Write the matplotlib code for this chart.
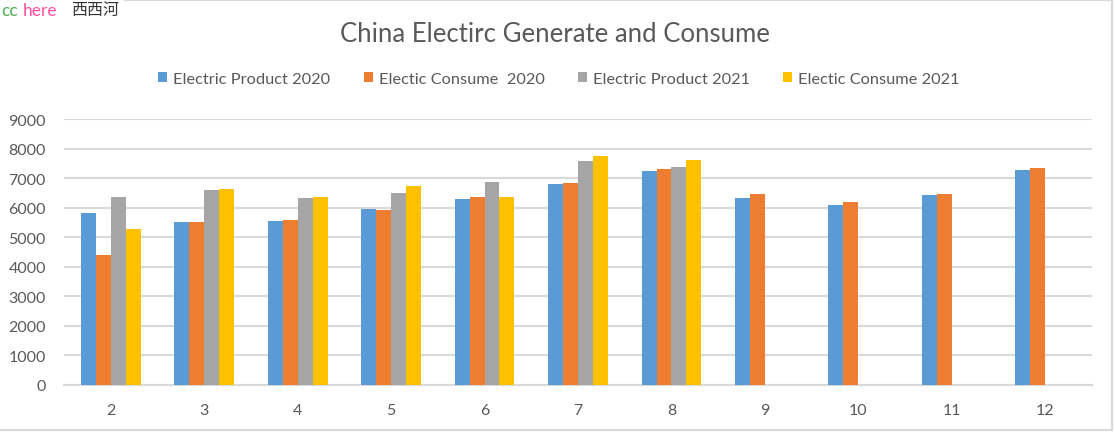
import numpy as np
import matplotlib
matplotlib.use("Agg")
import matplotlib.pyplot as plt
from matplotlib.lines import Line2D

months = ["2", "3", "4", "5", "6", "7", "8", "9", "10", "11", "12"]
product_2020 = [5810, 5510, 5545, 5950, 6290, 6800, 7240, 6325, 6090, 6425, 7275]
consume_2020 = [4400, 5510, 5580, 5915, 6355, 6835, 7305, 6460, 6190, 6460, 7340]
product_2021 = [6355, 6595, 6325, 6495, 6865, 7580, 7375, np.nan, np.nan, np.nan, np.nan]
consume_2021 = [5275, 6630, 6355, 6730, 6355, 7745, 7610, np.nan, np.nan, np.nan, np.nan]
series_labels = ["Electric Product 2020", "Electic Consume  2020",
                 "Electric Product 2021", "Electic Consume 2021"]
colors = ["#5B9BD5", "#ED7D31", "#A5A5A5", "#FFC000"]
yticks = list(range(0, 9001, 1000))

plt.rcParams['font.family'] = ['Lato', 'DejaVu Sans']
txt = "#595959"
W, H = 1115, 435
fig = plt.figure(figsize=(W / 100, H / 100), dpi=100)

ax = fig.add_axes([64 / W, (H - 385.7) / H, (1092 - 64) / W, (385.7 - 120) / H])
x = np.arange(len(months))
w = 0.16
series = [product_2020, consume_2020, product_2021, consume_2021]
for i, (vals, c, lab) in enumerate(zip(series, colors, series_labels)):
    ax.bar(x + (i - 1.5) * w, vals, width=w, color=c, label=lab, zorder=3)

ax.set_xlim(-0.5, len(months) - 0.5)
ax.set_ylim(0, 9000)
ax.set_yticks(yticks)
ax.set_yticklabels([str(v) for v in yticks])
ax.set_xticks(x)
ax.set_xticklabels(months)
ax.grid(axis='y', color='#D9D9D9', linewidth=1.5, zorder=0)
ax.set_axisbelow(True)
for s in ax.spines.values():
    s.set_visible(False)
ax.tick_params(axis='both', length=0, colors=txt, labelsize=11.5)
ax.tick_params(axis='y', pad=13)
ax.tick_params(axis='x', pad=13)
ax.axhline(0, color='#D9D9D9', linewidth=1.5, zorder=1, clip_on=False)

fig.text(555 / W, 1 - 35 / H, "China Electirc Generate and Consume", ha='center', va='center',
         fontsize=18.5, color=txt)

leg = fig.legend(loc='center', bbox_to_anchor=(559 / W, 1 - 80 / H), ncol=4, frameon=False,
                 fontsize=11.8, handlelength=0.55, handleheight=0.55, columnspacing=2.05,
                 handletextpad=0.35, labelcolor=txt)

# frame lines
fig.add_artist(Line2D([125 / W, 1112 / W], [1 - 1 / H, 1 - 1 / H], color='#D9D9D9', linewidth=1.5))
fig.add_artist(Line2D([1112 / W, 1112 / W], [1 - 1 / H, 1 - 431 / H], color='#D9D9D9', linewidth=1.5))
fig.add_artist(Line2D([0, 1112 / W], [1 - 431 / H, 1 - 431 / H], color='#D9D9D9', linewidth=1.5))

# watermark
fig.text(1 / W, 1 - 11 / H, "cc", color="#4CAF50", fontsize=12.5, va='center', ha='left')
fig.text(23 / W, 1 - 11 / H, "here", color="#FF4FA0", fontsize=12.5, va='center', ha='left')
fig.text(71 / W, 1 - 11 / H, "西西河", color="#333333", fontsize=11.5, va='center', ha='left',
         family=['Noto Sans CJK SC', 'DejaVu Sans'])

fig.savefig("out.png", dpi=100)
